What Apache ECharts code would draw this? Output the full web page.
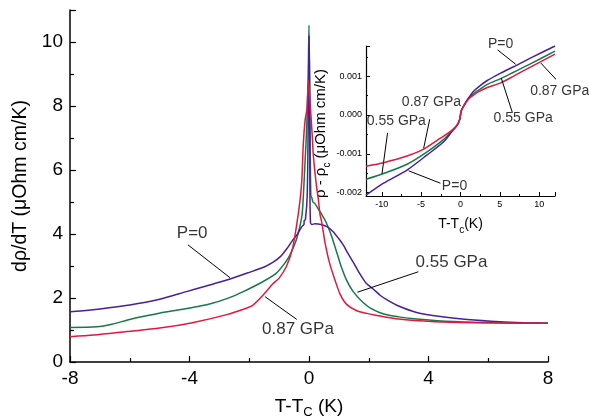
<!DOCTYPE html>
<html><head><meta charset="utf-8">
<script src="https://cdn.jsdelivr.net/npm/echarts@6/dist/echarts.min.js"></script>
<style>html,body{margin:0;padding:0;background:#fff}#c{width:589px;height:420px}</style>
</head><body><div id="c"></div>
<script>
// ---------- main panel data: dρ/dT vs T-Tc ----------
const mainP0 = [[-8,1.57],[-7,1.66],[-6,1.78],[-5,1.96],[-4.1,2.2],[-3.5,2.36],[-2.75,2.56],[-2,2.8],[-1.5,2.97],[-1.2,3.12],[-0.95,3.3],[-0.75,3.53],[-0.55,3.8],[-0.4,3.98],[-0.24,4.23],[-0.17,4.3],[-0.16,4.42],[-0.12,4.45],[-0.06,5.2],[-0.02,8],[0,10.19],[0.02,8.5],[0.03,5.5],[0.05,4.35],[0.1,4.3],[0.2,4.32],[0.4,4.3],[0.6,4.23],[0.8,4.08],[1.0,3.85],[1.15,3.65],[1.3,3.4],[1.48,3.12],[1.7,2.76],[1.9,2.48],[2.15,2.28],[2.4,2.07],[2.6,1.95],[3.0,1.75],[3.6,1.55],[4.4,1.42],[5.3,1.33],[6.4,1.26],[7.2,1.23],[8,1.21]];
const main055 = [[-8,1.08],[-7.1,1.1],[-6.6,1.18],[-6.0,1.33],[-5.4,1.45],[-4.8,1.56],[-3.9,1.7],[-3.3,1.82],[-2.75,1.98],[-2.2,2.2],[-1.64,2.46],[-1.1,2.77],[-0.8,3.1],[-0.64,3.34],[-0.41,3.86],[-0.24,4.54],[-0.19,5.17],[-0.13,6.3],[-0.08,7.25],[-0.03,8.8],[0,10.53],[0.03,8],[0.06,5.2],[0.1,5.12],[0.13,5.0],[0.2,4.95],[0.3,4.8],[0.42,4.62],[0.59,4.33],[0.76,3.92],[0.93,3.42],[1.09,2.95],[1.26,2.55],[1.48,2.2],[1.82,1.85],[2.1,1.66],[2.5,1.5],[3.0,1.41],[3.5,1.35],[4.3,1.29],[5.5,1.24],[6.5,1.22],[8,1.21]];
const main087 = [[-8,0.79],[-7.2,0.84],[-6.1,0.95],[-5,1.06],[-3.9,1.23],[-2.75,1.48],[-2.1,1.68],[-1.9,1.76],[-1.53,2.1],[-1.2,2.45],[-1.0,2.62],[-0.75,3.0],[-0.55,3.55],[-0.41,4.3],[-0.3,5.06],[-0.24,5.69],[-0.19,6.83],[-0.13,7.56],[-0.07,7.9],[-0.02,8.8],[0.05,7.9],[0.1,7.2],[0.15,6.4],[0.25,5.5],[0.31,5.1],[0.37,4.6],[0.42,4.4],[0.54,3.71],[0.7,3.05],[0.87,2.56],[1.04,2.12],[1.26,1.8],[1.6,1.6],[1.93,1.52],[2.2,1.47],[3.0,1.34],[4.2,1.26],[5.5,1.23],[8,1.21]];

// ---------- inset data: ρ - ρc vs T-Tc ----------
const insetP0 = [[-12,-0.00207],[-9.77,-0.00176],[-6.79,-0.00142],[-4.24,-0.00103],[-2.13,-0.00069],[-1.06,-0.00042],[-0.42,-0.00027],[-0.08,-0.0001],[0.08,0.0001],[0.5,0.00027],[1.06,0.00045],[1.7,0.00062],[2.5,0.00076],[3.4,0.00089],[5.1,0.00108],[6.8,0.00125],[9,0.00148],[12,0.00178]];
const inset055 = [[-12,-0.00166],[-9.77,-0.00151],[-6.79,-0.00127],[-4.24,-0.00095],[-2.13,-0.00063],[-1.06,-0.0004],[-0.42,-0.00026],[-0.08,-0.0001],[0.08,0.0001],[0.5,0.00027],[1.06,0.00043],[1.7,0.00056],[2.5,0.00067],[3.4,0.00079],[5.1,0.00094],[6.8,0.00111],[9,0.00133],[12,0.00165]];
const inset087 = [[-12,-0.00132],[-9.77,-0.00123],[-6.79,-0.00106],[-4.67,-0.00088],[-2.55,-0.0006],[-1.06,-0.00039],[-0.42,-0.00025],[-0.08,-0.0001],[0.08,0.0001],[0.5,0.00026],[1.06,0.00042],[1.7,0.00052],[2.5,0.00062],[3.4,0.00071],[5.1,0.00083],[6.8,0.00101],[9,0.00125],[12,0.00157]];

// ---------- annotations (text, label anchor, leader start, leader end) in data units ----------
const mainNoteText = ['P=0','0.87 GPa','0.55 GPa'];
const mainNoteAt = [[-3.91,4.02],[-0.37,1.03],[4.77,3.11]];
const mainNoteLine = [[[-4.05,3.66],[-2.64,2.63]],[[-1.47,2.04],[-0.41,1.33]],[[3.66,2.82],[1.62,2.18]]];
const insetNoteText = ['P=0','0.87 GPa','0.55 GPa','0.87 GPa','0.55 GPa','P=0'];
const insetNoteAt = [[5.1,0.00182],[12.6,0.00062],[7.96,-0.000085],[-3.69,0.00034],[-8.15,-0.000155],[-0.76,-0.00183]];
const insetNoteLine = [[[4.71,0.00168],[7.0,0.00131]],[[10.2,0.00134],[12.4,0.00086]],[[6.59,0.00006],[5.18,0.00095]],[[-3.91,-0.00011],[-4.68,-0.00086]],[[-9.26,-0.00046],[-9.97,-0.00152]],[[-2.55,-0.00176],[-6.59,-0.00144]]];

const seriesNames = ['P=0','0.55 GPa','0.87 GPa'];

const FONT = 'Liberation Sans, Arial, sans-serif';
const COL = {p0:'#4a1f9a', g:'#17784a', r:'#e5173a'};
const chart = echarts.init(document.getElementById('c'), null, {renderer:'canvas'});

function curve(name, data, color, xi){
  return {type:'line', name, data, xAxisIndex:xi, yAxisIndex:xi, showSymbol:false, symbol:'none',
    smooth:0.25, lineStyle:{color, width:1.5}, itemStyle:{color}, silent:true, z:3};
}
function notes(texts, ats, xi, size){
  return {type:'scatter', xAxisIndex:xi, yAxisIndex:xi, symbolSize:0, clip:false, silent:true, z:5,
    data: ats.map((p,i)=>({value:p, name:texts[i]})),
    label:{show:true, position:'inside', formatter:p=>p.name, color:'#000', fontFamily:FONT, fontSize:size}};
}
function leaders(lines, xi){
  return lines.map(l=>({type:'line', xAxisIndex:xi, yAxisIndex:xi, data:l, showSymbol:false, symbol:'none',
    clip:false, silent:true, lineStyle:{color:'#000', width:1}, z:4}));
}

const mainLine = {onZero:false, lineStyle:{color:'#000', width:1.5}};
const insetLine = {onZero:false, lineStyle:{color:'#000', width:1.2}};
const option = {
  animation:false,
  backgroundColor:'#fff',
  grid:[
    {left:70, top:10, width:478, height:352, containLabel:false, outerBoundsMode:'none'},
    {left:366, top:46, width:189, height:150, containLabel:false, outerBoundsMode:'none'}
  ],
  xAxis:[
    {type:'value', gridIndex:0, min:-8, max:8, interval:4,
     axisLine:mainLine, axisTick:{inside:true, length:6, lineStyle:{color:'#000', width:1.2}},
     minorTick:{show:true, splitNumber:2, length:4, lineStyle:{color:'#000', width:1.2}},
     splitLine:{show:false},
     axisLabel:{color:'#000', fontSize:19, fontFamily:FONT, margin:7},
     name:'{n|T-T}{s|C}{n| (K)}', nameLocation:'middle', nameGap:35,
     nameTextStyle:{color:'#000', fontFamily:FONT, rich:{n:{fontSize:19, fontFamily:FONT, color:'#000', verticalAlign:'top', lineHeight:22}, s:{fontSize:13, fontFamily:FONT, color:'#000', verticalAlign:'bottom', lineHeight:13}}}},
    {type:'value', gridIndex:1, min:-12, max:12, splitNumber:5,
     axisLine:insetLine, axisTick:{inside:true, length:4, lineStyle:{color:'#000'}},
     minorTick:{show:true, splitNumber:2, length:2, lineStyle:{color:'#000'}},
     splitLine:{show:false},
     axisLabel:{color:'#000', fontSize:9, fontFamily:FONT, margin:4, formatter:v=>(Math.abs(v%5)<1e-9? String(v):'')},
     name:'{n|T-T}{s|c}{n|(K)}', nameLocation:'middle', nameGap:21,
     nameTextStyle:{color:'#000', fontFamily:FONT, rich:{n:{fontSize:14, fontFamily:FONT, color:'#000', verticalAlign:'top', lineHeight:18}, s:{fontSize:10, fontFamily:FONT, color:'#000', verticalAlign:'bottom', lineHeight:10}}}}
  ],
  yAxis:[
    {type:'value', gridIndex:0, min:0, max:11, interval:2,
     axisLine:mainLine, axisTick:{inside:true, length:6, lineStyle:{color:'#000', width:1.2}},
     minorTick:{show:true, splitNumber:2, length:4, lineStyle:{color:'#000', width:1.2}},
     splitLine:{show:false},
     axisLabel:{color:'#000', fontSize:19, fontFamily:FONT, margin:7, formatter:v=>(v%2===0? String(v):'')},
     name:'dρ/dT (μOhm cm/K)', nameLocation:'middle', nameGap:33,
     nameTextStyle:{color:'#000', fontSize:19.5, fontFamily:FONT}},
    {type:'value', gridIndex:1, min:-0.00209, max:0.00178, splitNumber:4,
     axisLine:insetLine, axisTick:{inside:true, length:4, lineStyle:{color:'#000'}},
     minorTick:{show:true, splitNumber:2, length:2, lineStyle:{color:'#000'}},
     splitLine:{show:false},
     axisLabel:{color:'#000', fontSize:9, fontFamily:FONT, margin:4, formatter:v=>{
        const k=v*1000; if(Math.abs(k-Math.round(k))>1e-6) return ''; if(Math.abs(v)<1e-9) return '0.000'; return v.toFixed(3);}},
     name:'{n|ρ - ρ}{s|c}{n| (μOhm cm/K)}{h|MM}', nameLocation:'middle', nameGap:26,
     nameTextStyle:{color:'#000', fontFamily:FONT, rich:{n:{fontSize:15, fontFamily:FONT, color:'#000', verticalAlign:'top', lineHeight:19}, s:{fontSize:10, fontFamily:FONT, color:'#000', verticalAlign:'bottom', lineHeight:10}, h:{fontSize:15, fontFamily:FONT, color:'rgba(0,0,0,0)', lineHeight:19}}}}
  ],
  series:[
    curve(seriesNames[1], main055, COL.g, 0),
    curve(seriesNames[0], mainP0, COL.p0, 0),
    curve(seriesNames[2], main087, COL.r, 0),
    curve(seriesNames[1], inset055, COL.g, 1),
    curve(seriesNames[0], insetP0, COL.p0, 1),
    curve(seriesNames[2], inset087, COL.r, 1),
    notes(mainNoteText, mainNoteAt, 0, 17),
    notes(insetNoteText, insetNoteAt, 1, 14),
    ...leaders(mainNoteLine, 0),
    ...leaders(insetNoteLine, 1)
  ]
};
chart.setOption(option);
</script></body></html>
